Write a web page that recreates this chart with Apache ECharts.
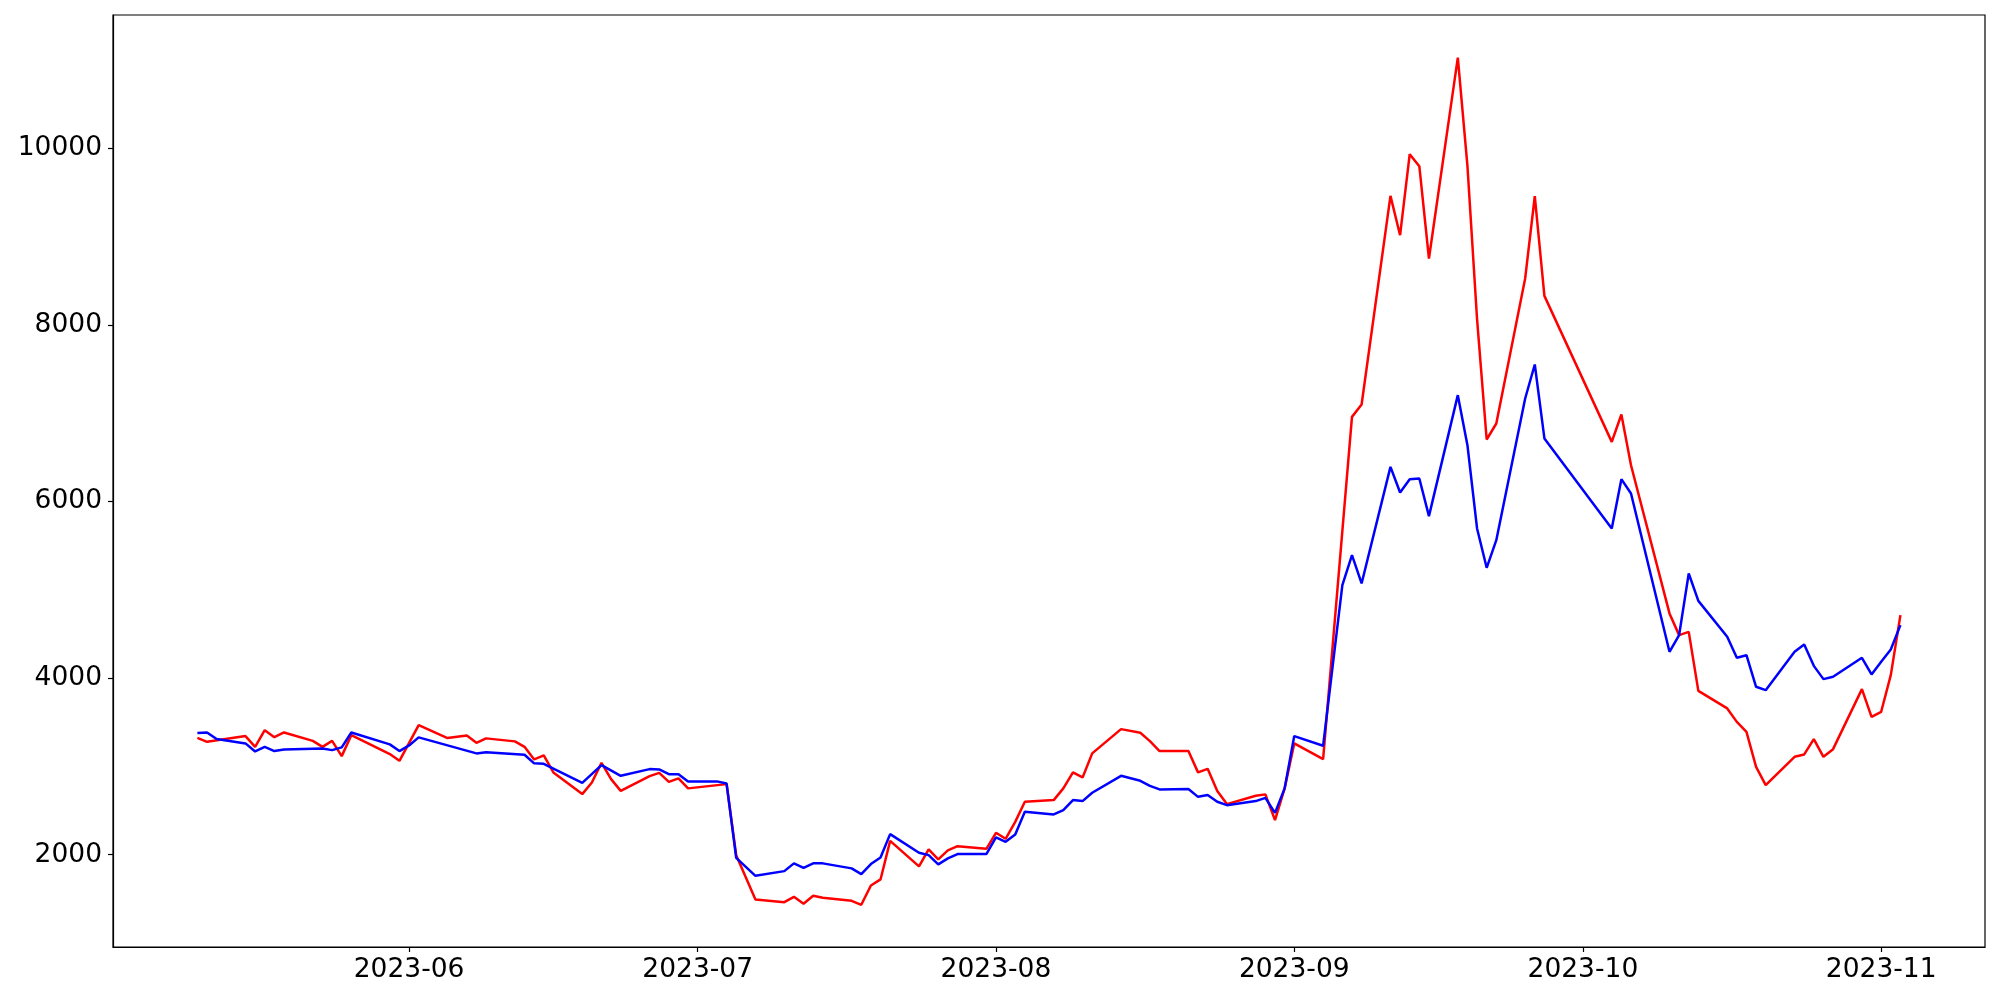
<!DOCTYPE html>
<html>
<head>
<meta charset="utf-8">
<script src="https://cdn.jsdelivr.net/npm/echarts@6/dist/echarts.min.js"></script>
<style>
html, body { margin: 0; padding: 0; background: #fff; }
#chart { width: 2000px; height: 1000px; }
</style>
</head>
<body>
<div id="chart"></div>
<script>
// ---- data ----
var redDates = ['2023-05-10','2023-05-11','2023-05-15','2023-05-16','2023-05-17','2023-05-18','2023-05-19','2023-05-22','2023-05-23','2023-05-24','2023-05-25','2023-05-26','2023-05-30','2023-05-31','2023-06-02','2023-06-05','2023-06-07','2023-06-08','2023-06-09','2023-06-12','2023-06-13','2023-06-14','2023-06-15','2023-06-16','2023-06-19','2023-06-20','2023-06-21','2023-06-22','2023-06-23','2023-06-26','2023-06-27','2023-06-28','2023-06-29','2023-06-30','2023-07-04','2023-07-05','2023-07-07','2023-07-10','2023-07-11','2023-07-12','2023-07-13','2023-07-14','2023-07-17','2023-07-18','2023-07-19','2023-07-20','2023-07-21','2023-07-24','2023-07-25','2023-07-26','2023-07-27','2023-07-28','2023-07-31','2023-08-01','2023-08-02','2023-08-03','2023-08-04','2023-08-07','2023-08-08','2023-08-09','2023-08-10','2023-08-11','2023-08-14','2023-08-16','2023-08-17','2023-08-18','2023-08-21','2023-08-22','2023-08-23','2023-08-24','2023-08-25','2023-08-28','2023-08-29','2023-08-30','2023-08-31','2023-09-01','2023-09-04','2023-09-07','2023-09-08','2023-09-11','2023-09-12','2023-09-13','2023-09-14','2023-09-15','2023-09-18','2023-09-19','2023-09-20','2023-09-21','2023-09-22','2023-09-25','2023-09-26','2023-09-27','2023-10-04','2023-10-05','2023-10-06','2023-10-10','2023-10-11','2023-10-12','2023-10-13','2023-10-16','2023-10-17','2023-10-18','2023-10-19','2023-10-20','2023-10-23','2023-10-24','2023-10-25','2023-10-26','2023-10-27','2023-10-30','2023-10-31','2023-11-01','2023-11-02','2023-11-03'];
var redValues = [3323,3278,3343,3221,3410,3331,3384,3289,3221,3289,3116,3354,3139,3063,3467,3320,3350,3267,3317,3283,3221,3079,3124,2932,2686,2818,3040,2856,2723,2890,2927,2825,2864,2751,2799,1995,1494,1463,1523,1444,1535,1512,1478,1433,1652,1720,2157,1868,2060,1947,2049,2097,2067,2248,2180,2372,2599,2618,2751,2932,2875,3147,3422,3380,3286,3173,3173,2932,2972,2720,2573,2667,2683,2392,2751,3260,3082,6957,7097,9459,9014,9931,9795,8750,11025,9798,8064,6701,6882,8524,9455,8327,6674,6984,6410,4732,4486,4523,3855,3656,3504,3391,2995,2788,3108,3135,3309,3108,3195,3875,3561,3618,4033,4712];

var blueDates = ['2023-05-10','2023-05-11','2023-05-12','2023-05-15','2023-05-16','2023-05-17','2023-05-18','2023-05-19','2023-05-23','2023-05-24','2023-05-25','2023-05-26','2023-05-30','2023-05-31','2023-06-01','2023-06-02','2023-06-08','2023-06-09','2023-06-13','2023-06-14','2023-06-15','2023-06-19','2023-06-21','2023-06-23','2023-06-26','2023-06-27','2023-06-28','2023-06-29','2023-06-30','2023-07-03','2023-07-04','2023-07-05','2023-07-07','2023-07-10','2023-07-11','2023-07-12','2023-07-13','2023-07-14','2023-07-17','2023-07-18','2023-07-19','2023-07-20','2023-07-21','2023-07-24','2023-07-25','2023-07-26','2023-07-27','2023-07-28','2023-07-31','2023-08-01','2023-08-02','2023-08-03','2023-08-04','2023-08-07','2023-08-08','2023-08-09','2023-08-10','2023-08-11','2023-08-14','2023-08-16','2023-08-17','2023-08-18','2023-08-21','2023-08-22','2023-08-23','2023-08-24','2023-08-25','2023-08-28','2023-08-29','2023-08-30','2023-08-31','2023-09-01','2023-09-04','2023-09-06','2023-09-07','2023-09-08','2023-09-11','2023-09-12','2023-09-13','2023-09-14','2023-09-15','2023-09-18','2023-09-19','2023-09-20','2023-09-21','2023-09-22','2023-09-25','2023-09-26','2023-09-27','2023-10-04','2023-10-05','2023-10-06','2023-10-10','2023-10-11','2023-10-12','2023-10-13','2023-10-16','2023-10-17','2023-10-18','2023-10-19','2023-10-20','2023-10-23','2023-10-24','2023-10-25','2023-10-26','2023-10-27','2023-10-30','2023-10-31','2023-11-01','2023-11-02','2023-11-03'];
var blueValues = [3377,3384,3309,3260,3169,3221,3173,3192,3203,3184,3215,3384,3249,3173,3237,3328,3147,3161,3131,3034,3029,2814,3014,2893,2969,2965,2912,2912,2830,2830,2807,1965,1761,1814,1902,1852,1902,1902,1845,1780,1894,1969,2233,2022,1995,1890,1958,2007,2007,2196,2146,2230,2486,2456,2505,2618,2607,2701,2893,2837,2780,2739,2743,2655,2675,2599,2561,2607,2644,2474,2751,3343,3233,5052,5391,5071,6391,6101,6252,6260,5833,7203,6637,5694,5248,5561,7165,7550,6713,5694,6252,6090,4297,4486,5184,4874,4467,4229,4259,3901,3863,4297,4381,4138,3988,4014,4229,4041,4184,4324,4599];

var yTickValues = [2000, 4000, 6000, 8000, 10000];
var xTickLabels = ['2023-06', '2023-07', '2023-08', '2023-09', '2023-10', '2023-11'];

// ---- build options ----
function toTime(s) { var p = s.split('-'); return new Date(+p[0], +p[1] - 1, +(p[2] || 1)).getTime(); }
function pairs(d, v) { return d.map(function (x, i) { return [toTime(x), v[i]]; }); }
var xTickValues = xTickLabels.map(function (s) { return toTime(s); });
function pad(n) { return (n < 10 ? '0' : '') + n; }

var FONT = 'DejaVu Sans';
var chart = echarts.init(document.getElementById('chart'), null, { renderer: 'canvas' });
chart.setOption({
  animation: false,
  backgroundColor: '#ffffff',
  grid: {
    left: 113, right: 15, top: 15, bottom: 53,
    show: true, borderColor: '#000', borderWidth: 1.2,
    outerBoundsMode: 'none'
  },
  xAxis: {
    type: 'value',
    min: new Date(2023, 4, 1, 5, 30).getTime(),
    max: new Date(2023, 10, 11, 19, 0).getTime(),
    axisLine: { show: true, lineStyle: { color: '#000', width: 1.2 } },
    axisTick: { show: true, length: 5, lineStyle: { color: '#000', width: 1.2 }, customValues: xTickValues },
    splitLine: { show: false },
    axisLabel: {
      customValues: xTickValues,
      color: '#000', fontFamily: FONT, fontSize: 26.5, margin: 10,
      formatter: function (val) { var d = new Date(val); return d.getFullYear() + '-' + pad(d.getMonth() + 1); }
    }
  },
  yAxis: {
    type: 'value',
    min: 955, max: 11507,
    axisLine: { show: true, lineStyle: { color: '#000', width: 1.2 } },
    axisTick: { show: true, length: 5, lineStyle: { color: '#000', width: 1.2 }, customValues: yTickValues },
    splitLine: { show: false },
    axisLabel: {
      customValues: yTickValues,
      color: '#000', fontFamily: FONT, fontSize: 26.5, margin: 11,
      formatter: function (val) { return String(Math.round(val)); }
    }
  },
  series: [
    {
      type: 'line', data: pairs(redDates, redValues), showSymbol: false, symbol: 'none',
      lineStyle: { color: '#ff0000', width: 2.5 }, itemStyle: { color: '#ff0000' }, z: 2
    },
    {
      type: 'line', data: pairs(blueDates, blueValues), showSymbol: false, symbol: 'none',
      lineStyle: { color: '#0000ff', width: 2.5 }, itemStyle: { color: '#0000ff' }, z: 3
    }
  ]
});
</script>
</body>
</html>
